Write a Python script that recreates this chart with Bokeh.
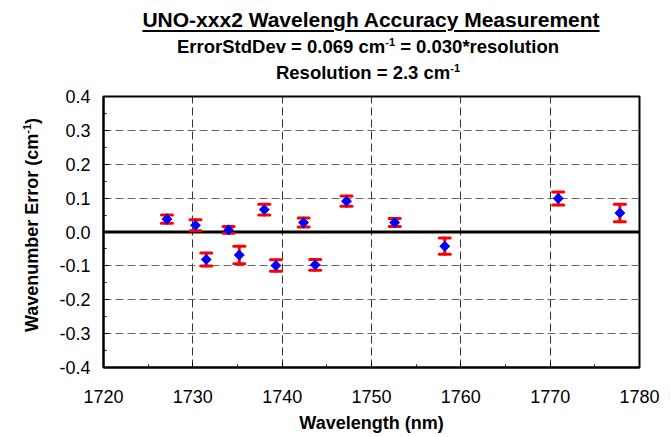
import math
from bokeh.plotting import figure
from bokeh.layouts import column, row
from bokeh.models import (FixedTicker, NumeralTickFormatter, Span, Whisker, TeeHead,
                          ColumnDataSource, Range1d, Div)
from bokeh.embed import file_html
from bokeh.resources import INLINE

# ---------------- data ----------------
wavelength = [1727.1, 1730.3, 1731.5, 1734.0, 1735.2, 1738.0, 1739.3,
              1742.4, 1743.7, 1747.2, 1752.6, 1758.2, 1770.9, 1777.8]
wn_error = [0.038, 0.020, -0.081, 0.006, -0.068, 0.066, -0.099,
            0.028, -0.097, 0.091, 0.028, -0.042, 0.099, 0.056]
err_sd = [0.012, 0.016, 0.019, 0.010, 0.026, 0.016, 0.017,
          0.013, 0.016, 0.015, 0.012, 0.024, 0.019, 0.026]

x_ticks = [1720, 1730, 1740, 1750, 1760, 1770, 1780]
x_minor = [1725, 1735, 1745, 1755, 1765, 1775]
y_ticks = [-0.4, -0.3, -0.2, -0.1, 0.0, 0.1, 0.2, 0.3, 0.4]
y_minor = [-0.35, -0.25, -0.15, -0.05, 0.05, 0.15, 0.25, 0.35]

title_text = "UNO-xxx2 Wavelengh Accuracy Measurement"
sub1_a = "ErrorStdDev = 0.069 cm"
sub1_b = " = 0.030*resolution"
sub2_a = "Resolution = 2.3 cm"
sup_text = "-1"
ylab_a = "Wavenumber Error (cm"
ylab_b = ")"
x_label = "Wavelength (nm)"

FONT = "Liberation Sans"

# ---------------- layout sizes ----------------
TOTAL_W = 669
TITLE_H = 88
YLAB_W = 48
FIG_W = TOTAL_W - YLAB_W
FIG_H = 347

p = figure(width=FIG_W, height=FIG_H, output_backend="svg", toolbar_location=None,
           x_range=Range1d(1720, 1780), y_range=Range1d(-0.4, 0.4),
           min_border_left=55, min_border_right=30, min_border_top=8,
           min_border_bottom=67, margin=0)
p.background_fill_color = "white"
p.border_fill_color = "white"
p.outline_line_color = "black"
p.outline_line_width = 2

# axes
for ax in (p.xaxis[0], p.yaxis[0]):
    ax.axis_line_width = 2
    ax.axis_line_color = "black"
    ax.major_tick_in = 5
    ax.major_tick_out = 0
    ax.minor_tick_in = 3
    ax.minor_tick_out = 0
    ax.major_tick_line_color = "black"
    ax.minor_tick_line_color = "black"
    ax.major_tick_line_width = 1
    ax.major_label_text_font = FONT
    ax.major_label_text_font_size = "18px"
    ax.major_label_text_color = "black"

p.xaxis.ticker = FixedTicker(ticks=x_ticks, minor_ticks=x_minor)
p.yaxis.ticker = FixedTicker(ticks=y_ticks, minor_ticks=y_minor)
p.yaxis.formatter = NumeralTickFormatter(format="0.0")
p.yaxis.major_label_standoff = 13
p.xaxis.major_label_standoff = 22

p.xaxis.axis_label = x_label
p.xaxis.axis_label_text_font = FONT
p.xaxis.axis_label_text_font_size = "18px"
p.xaxis.axis_label_text_font_style = "bold"
p.xaxis.axis_label_text_color = "black"
p.xaxis.axis_label_standoff = 7

# grids
p.xgrid.grid_line_color = "#333333"
p.xgrid.grid_line_dash = "8 4"
p.xgrid.grid_line_width = 1
p.ygrid.grid_line_color = "#666666"
p.ygrid.grid_line_dash = "8 4"
p.ygrid.grid_line_width = 1

# zero line
zero = Span(location=0, dimension="width", line_color="black", line_width=3,
            level="underlay")
p.add_layout(zero)

# error bars
src = ColumnDataSource(dict(
    x=wavelength, y=wn_error,
    lo=[v - e for v, e in zip(wn_error, err_sd)],
    hi=[v + e for v, e in zip(wn_error, err_sd)]))

whisk = Whisker(base="x", upper="hi", lower="lo", source=src, dimension="height",
                line_color="red", line_width=3, line_cap="round", level="underlay",
                upper_head=TeeHead(size=11, line_color="red", line_width=3, line_cap="round"),
                lower_head=TeeHead(size=11, line_color="red", line_width=3, line_cap="round"))
p.add_layout(whisk)

p.scatter("x", "y", source=src, marker="square", angle=math.pi / 4, size=7,
          fill_color="blue", line_color="blue", line_width=1)

# ---------------- title block (HTML text) ----------------
SUP = '<sup style="font-size:11px; vertical-align:7px; line-height:0">' + sup_text + '</sup>'


def line_html(html, center, top, size, extra=""):
    return (f'<div style="position:absolute; left:{center - 320}px; top:{top}px; width:640px; '
            f'text-align:center; white-space:nowrap; font-family:\'{FONT}\'; font-weight:bold; '
            f'font-size:{size}px; line-height:{size}px; color:black; {extra}">{html}</div>')


title_html = (
    f'<div style="position:relative; width:{TOTAL_W}px; height:{TITLE_H}px;">'
    + line_html(f'<span style="text-decoration:underline; text-decoration-thickness:2px; '
                f'text-underline-offset:3px;">{title_text}</span>', 371, 9, 21)
    + line_html(sub1_a + SUP + sub1_b, 368, 38, 18.5)
    + line_html(sub2_a + SUP, 368, 64, 18.5)
    + '</div>'
)
tdiv = Div(text=title_html, width=TOTAL_W, height=TITLE_H, margin=0)

# ---------------- rotated y-axis label (HTML text) ----------------
cx, cy = 31.8, 225 - TITLE_H
ylab_html = (
    f'<div style="position:relative; width:{YLAB_W}px; height:{FIG_H}px;">'
    f'<div style="position:absolute; left:{cx - 140}px; top:{cy - 9}px; width:280px; height:18px; '
    f'transform:rotate(-90deg); text-align:center; white-space:nowrap; '
    f'font-family:\'{FONT}\'; font-weight:bold; font-size:18px; line-height:18px; color:black;">'
    f'{ylab_a}{SUP}{ylab_b}</div></div>'
)
ydiv = Div(text=ylab_html, width=YLAB_W, height=FIG_H, margin=0)

layout = column(tdiv, row(ydiv, p, spacing=0, margin=0), spacing=0, margin=0)

open("out.html", "w").write(file_html(layout, INLINE))
